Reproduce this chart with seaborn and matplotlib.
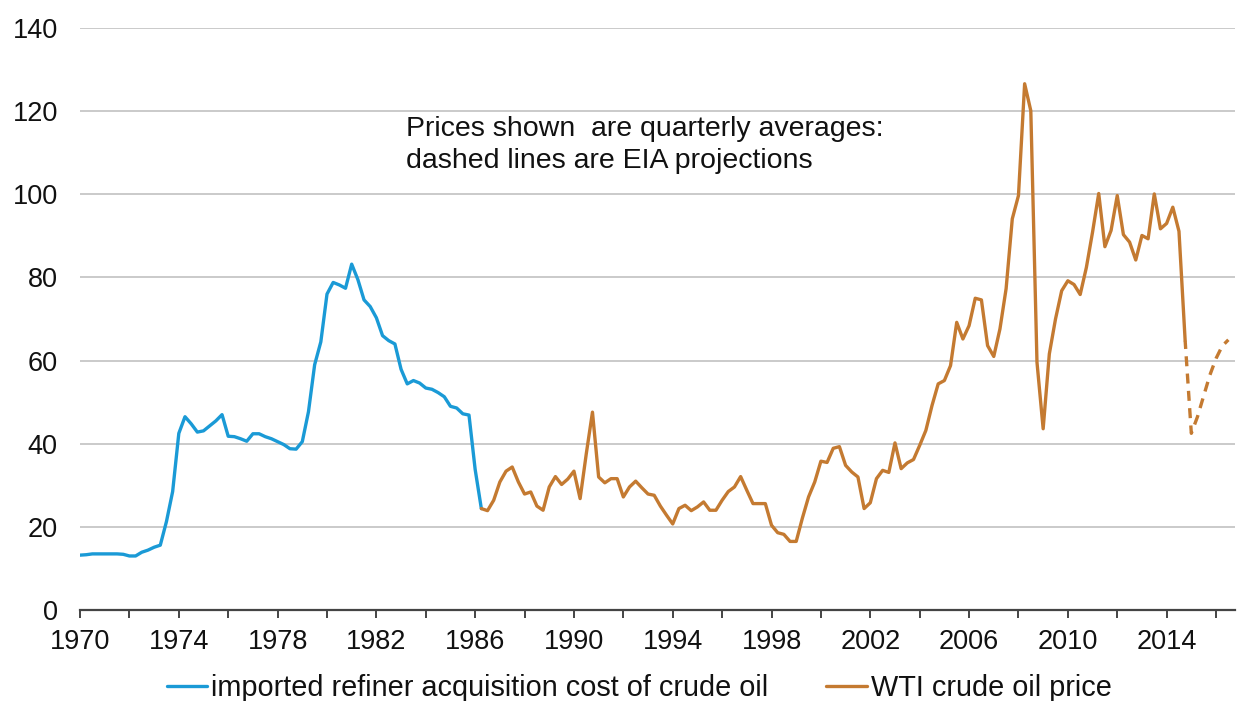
import numpy as np
import pandas as pd
import matplotlib
matplotlib.use('Agg')
import matplotlib.pyplot as plt
import seaborn as sns
from matplotlib.lines import Line2D

# quarterly averages, 1970Q1 onwards
refiner_cost = [13.2, 13.3, 13.5, 13.5, 13.5, 13.5, 13.5, 13.4, 13.0, 13.0,
                13.9, 14.4, 15.1, 15.6, 21.3, 28.5, 42.5, 46.5, 44.8, 42.8,
                43.1, 44.3, 45.5, 47.0, 41.8, 41.7, 41.2, 40.6, 42.4, 42.4,
                41.7, 41.2, 40.5, 39.8, 38.8, 38.7, 40.5, 47.7, 59.0, 64.5,
                76.0, 78.8, 78.2, 77.4, 83.2, 79.5, 74.6, 73.0, 70.3, 66.0,
                64.8, 64.0, 57.9, 54.4, 55.2, 54.6, 53.4, 53.1, 52.3, 51.3,
                49.0, 48.6, 47.2, 46.9, 33.8, 24.4]
refiner_start = 0          # quarter index of first value

wti_price = [24.4, 23.9, 26.4, 30.8, 33.4, 34.4, 30.8, 27.9, 28.4, 25.0,
             24.0, 29.6, 32.1, 30.2, 31.5, 33.4, 26.8, 37.6, 47.6, 32.0,
             30.6, 31.6, 31.6, 27.2, 29.6, 31.0, 29.4, 27.9, 27.6, 25.0,
             22.8, 20.7, 24.4, 25.2, 23.9, 24.8, 26.0, 24.0, 24.0, 26.4,
             28.5, 29.6, 32.1, 28.8, 25.6, 25.6, 25.6, 20.4, 18.6, 18.2,
             16.5, 16.5, 22.1, 27.2, 30.8, 35.8, 35.5, 38.9, 39.3, 34.8,
             33.2, 32.0, 24.4, 25.8, 31.6, 33.6, 33.1, 40.2, 34.0, 35.4,
             36.2, 39.6, 43.2, 49.2, 54.4, 55.2, 58.8, 69.2, 65.2, 68.4,
             75.0, 74.6, 63.6, 61.0, 67.6, 77.3, 94.1, 99.7, 126.6, 120.1,
             59.6, 43.6, 61.6, 70.0, 76.8, 79.2, 78.3, 75.9, 82.4, 90.9,
             100.2, 87.4, 91.3, 99.7, 90.3, 88.5, 84.2, 90.1, 89.3, 100.1,
             91.7, 93.0, 96.9, 91.1, 64.8]
wti_start = 65

eia_projection = [64.8, 42.5, 46.5, 51.5, 56.5, 60.5, 63.5, 65.0]
eia_start = 179

y_ticks = [0, 20, 40, 60, 80, 100, 120, 140]
x_label_years = list(range(1970, 2015, 4))

note = 'Prices shown  are quarterly averages:\ndashed lines are EIA projections'
legend_labels = ['imported refiner acquisition cost of crude oil', 'WTI crude oil price']

blue = '#1A9AD6'
orange = '#C47A31'
fs = 19.5


def to_frame(values, start):
    q = np.arange(start, start + len(values))
    return pd.DataFrame({'year': 1970 + q / 4, 'price': values})


df_ref = to_frame(refiner_cost, refiner_start)
df_wti = to_frame(wti_price, wti_start)
df_eia = to_frame(eia_projection, eia_start)

sns.set_style('white')
plt.rcParams['font.family'] = ['Liberation Sans', 'DejaVu Sans']
plt.rcParams['text.color'] = '#111111'
plt.rcParams['xtick.color'] = '#111111'
plt.rcParams['ytick.color'] = '#111111'

fig = plt.figure(figsize=(12.39, 7.01), dpi=100)
ax = fig.add_axes([0.0646, 0.1298, 0.9322, 0.8302])

for y in y_ticks[1:]:
    ax.axhline(y, color='#c6c6c6', lw=1.3, zorder=0)

sns.lineplot(data=df_ref, x='year', y='price', color=blue, lw=2.4, ax=ax)
sns.lineplot(data=df_wti, x='year', y='price', color=orange, lw=2.4, ax=ax)
sns.lineplot(data=df_eia, x='year', y='price', color=orange, lw=2.4,
             linestyle=(0.5, (3, 2.2)), ax=ax)

ax.set_xlim(1970, 2016.77)
ax.set_ylim(0, 140)
ax.set_yticks(y_ticks)
ax.set_yticklabels([str(v) for v in y_ticks], fontsize=fs)
ax.set_xticks(np.arange(1970, 2017, 2))
ax.set_xticklabels([str(y) if y in x_label_years else '' for y in range(1970, 2017, 2)],
                   fontsize=fs)
ax.set_xlabel('')
ax.set_ylabel('')
ax.tick_params(axis='x', length=6, width=1.4, color='#444444', pad=8, direction='out')
ax.tick_params(axis='y', length=0, pad=16)
ax.xaxis.set_ticks_position('bottom')
for side in ['left', 'right', 'top']:
    ax.spines[side].set_visible(False)
ax.spines['bottom'].set_color('#444444')
ax.spines['bottom'].set_linewidth(1.6)

ax.text(1983.2, 118.8, note, fontsize=20.5, va='top', ha='left', linespacing=1.3)

handles = [Line2D([], [], color=blue, lw=2.4), Line2D([], [], color=orange, lw=2.4)]
fig.legend(handles, legend_labels, loc='center', bbox_to_anchor=(0.516, 0.019),
           ncol=2, frameon=False, fontsize=20.8, handlelength=1.4, handletextpad=0.15,
           columnspacing=2.0)

fig.savefig('out.png', dpi=100)
